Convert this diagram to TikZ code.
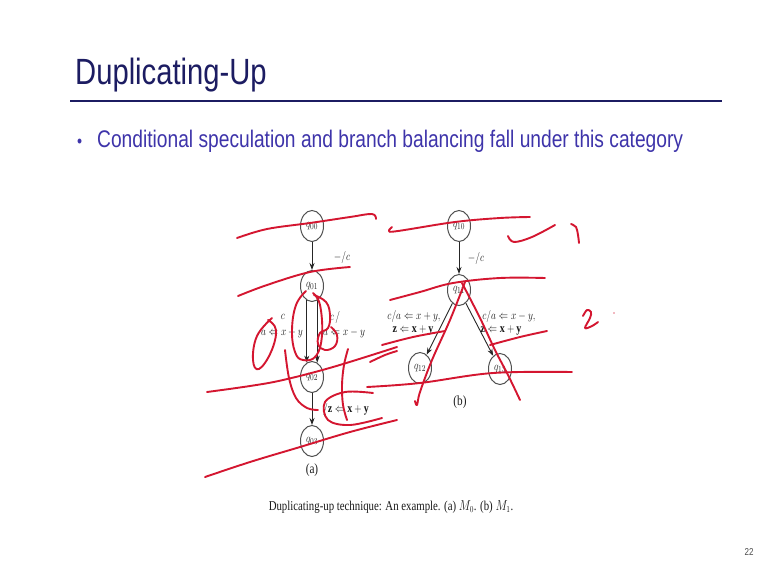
\documentclass[tikz,border=0pt]{standalone}
\usepackage{fontspec}
\usepackage{graphicx}
\setmainfont{Liberation Serif}
\newfontfamily\slidesans{Liberation Sans}
\usetikzlibrary{shapes.geometric,arrows.meta}
% horizontally condensed text, as on the slide
\newcommand\hsq[1]{\scalebox{0.8}[1]{#1}}
\definecolor{titleblue}{RGB}{28,28,98}
\definecolor{bulletblue}{RGB}{62,52,170}
\definecolor{penred}{RGB}{212,22,48}
\definecolor{figgray}{RGB}{80,80,80}
\tikzset{
  state/.style={ellipse, draw=figgray, line width=1pt, minimum width=23pt,
    minimum height=31pt, inner sep=0pt, text=black!85, font=\fontsize{13}{13}\selectfont},
  arr/.style={draw=black!85, line width=0.9pt, -{Stealth[length=7pt,width=5pt]}},
  lab/.style={font=\fontsize{12.5}{13}\selectfont, text=black!90, inner sep=0pt},
  ink/.style={draw=penred, line width=1.9pt, line cap=round, line join=round},
}
\begin{document}
\begin{tikzpicture}[x=1pt,y=-1pt]
\fill[white] (0,0) rectangle (767,573);
\useasboundingbox (0,0) rectangle (767,573);

% slide heading
\node[anchor=base west, inner sep=0pt, text=titleblue,
      font=\slidesans\fontsize{36.5}{37}\selectfont] (title) at (75,84) {\hsq{Duplicating-Up}};
\draw[titleblue, line width=2.6pt] (70,101) -- (722,101);
\node[anchor=base west, inner sep=0pt, text=bulletblue,
      font=\slidesans\fontsize{18}{18}\selectfont] (dot) at (77,147) {\hsq{•}};
\node[anchor=base west, inner sep=0pt, text=bulletblue,
      font=\slidesans\fontsize{24}{24}\selectfont] (bul) at (97,147)
      {\hsq{Conditional speculation and branch balancing fall under this category}};

% (a) M0
\node[state] (q00) at (312,226) {\hsq{$q_{00}$}};
\node[state] (q01) at (312,286) {\hsq{$q_{01}$}};
\node[state] (q02) at (312,377) {\hsq{$q_{02}$}};
\node[state] (q03) at (312,441) {\hsq{$q_{03}$}};
\draw[arr] (q00) -- (q01);
\draw[arr] (q01.-110) -- (q02.110);
\draw[arr] (q01.-70) -- (q02.70);
\draw[arr] (q02) -- (q03);
\node[lab] (l1) at (342,257) {\hsq{$-/c$}};
\node[lab] (l2) at (283,317) {\hsq{$c$}};
\node[lab] (l3) at (282,333) {\hsq{$a\Leftarrow x+y$}};
\node[lab] (l4) at (335,317) {\hsq{$c\,/$}};
\node[lab] (l5) at (344,333) {\hsq{$a\Leftarrow x-y$}};
\node[lab] (l6) at (346,409) {\hsq{$/\mathbf{z}\Leftarrow\mathbf{x+y}$}};
\node[lab, font=\fontsize{14}{14}\selectfont] (ca) at (312,470) {\hsq{(a)}};

% (b) M1
\node[state] (q10) at (459,226) {\hsq{$q_{10}$}};
\node[state] (q11) at (459,290) {\hsq{$q_{11}$}};
\node[state] (q12) at (420,368) {\hsq{$q_{12}$}};
\node[state] (q13) at (500,369) {\hsq{$q_{13}$}};
\draw[arr] (q10) -- (q11);
\draw[arr] (q11) -- (q12);
\draw[arr] (q11) -- (q13);
\node[lab] (l7) at (476,258) {\hsq{$-/c$}};
\node[lab] (l8) at (414,316) {\hsq{$c/a\Leftarrow x+y,$}};
\node[lab] (l9) at (413,330) {\hsq{$\mathbf{z}\Leftarrow\mathbf{x+y}$}};
\node[lab] (l10) at (509,316) {\hsq{$c/a\Leftarrow x-y,$}};
\node[lab] (l11) at (501,330) {\hsq{$\mathbf{z}\Leftarrow\mathbf{x+y}$}};
\node[lab, font=\fontsize{14}{14}\selectfont] (cb) at (460,402) {\hsq{(b)}};

% caption and page number
\node[inner sep=0pt, text=black!90, font=\fontsize{13.5}{14}\selectfont] (cap) at (391,507)
  {\hsq{Duplicating-up technique: An example. (a) $M_0$. (b) $M_1$.}};
\node[inner sep=0pt, text=black!70, font=\slidesans\fontsize{10}{10}\selectfont] (pg) at (749,552) {\hsq{22}};

% pen annotations
\draw[ink] plot[smooth, tension=0.6] coordinates {(237,238) (267,229) (310,223) (350,217) (372,214) (376,219)};
\draw[ink] plot[smooth, tension=0.6] coordinates {(238,296) (267,285) (310,272) (350,267)};
\draw[ink] plot[smooth, tension=0.7] coordinates {(268,320) (276,330) (271,352) (259,369) (253,360) (257,336) (272,318)};
\draw[ink] plot[smooth, tension=0.7] coordinates {(306,291) (296,305) (292,330) (295,352) (303,360) (316,356) (322,335) (320,305) (313,293)};
\draw[ink] plot[smooth, tension=0.7] coordinates {(314,295) (326,302) (330,315) (328,328) (320,333) (318,344) (325,350) (335,346) (337,335) (331,327)};
\draw[ink] plot[smooth, tension=0.6] coordinates {(348,349) (344,365) (342,385) (343,405) (347,420)};
\draw[ink] plot[smooth, tension=0.6] coordinates {(285,350) (289,378) (296,398) (307,408) (318,410)};
\draw[ink] plot[smooth, tension=0.6] coordinates {(373,393) (345,392) (325,402) (328,420) (350,425) (382,418)};
\draw[ink] plot[smooth, tension=0.6] coordinates {(207,392) (250,386) (283,380) (333,367) (397,347)};
\draw[ink] plot[smooth, tension=0.6] coordinates {(205,477) (250,462) (300,447) (350,432) (397,420)};
\draw[ink] plot[smooth, tension=0.6] coordinates {(392,227) (389,231) (398,231) (455,222) (500,218) (530,217)};
\draw[ink] plot[smooth, tension=0.6] coordinates {(508,236) (514,242) (532,237) (555,225)};
\draw[ink] plot[smooth, tension=0.6] coordinates {(571,224) (576,227) (578,235) (579,243)};
\draw[ink] plot[smooth, tension=0.6] coordinates {(583,316) (587,310) (591,312) (590,318) (585,328) (592,326) (598,322)};
\fill[penred!60] (614,313) circle (0.9);
\draw[ink] plot[smooth, tension=0.6] coordinates {(390,300) (420,292) (453,283) (500,278) (545,278)};
\draw[ink] plot[smooth, tension=0.6] coordinates {(465,282) (450,320) (432,360) (420,392) (417,405) (415,401)};
\draw[ink] plot[smooth, tension=0.6] coordinates {(462,283) (480,318) (495,350) (508,375) (520,400)};
\draw[ink] plot[smooth, tension=0.6] coordinates {(382,345) (413,337) (445,331)};
\draw[ink] plot[smooth, tension=0.6] coordinates {(370,362) (385,355) (397,351)};
\draw[ink] plot[smooth, tension=0.6] coordinates {(490,345) (520,337) (547,331)};
\draw[ink] plot[smooth, tension=0.6] coordinates {(367,387) (420,383) (493,373) (572,372)};
\end{tikzpicture}
\end{document}
